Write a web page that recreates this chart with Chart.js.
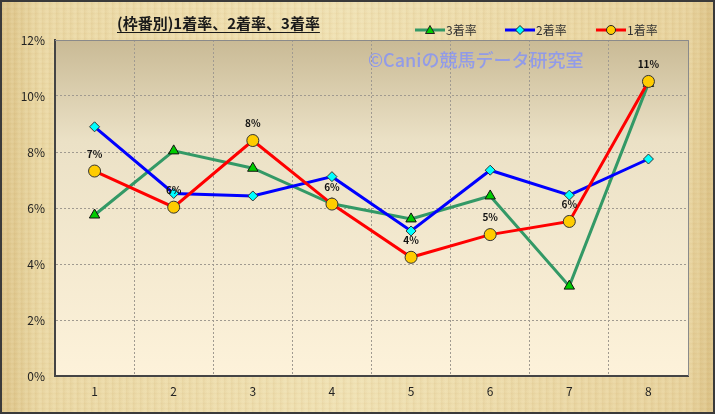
<!DOCTYPE html>
<html>
<head>
<meta charset="utf-8">
<script src="https://cdn.jsdelivr.net/npm/chart.js@4/dist/chart.umd.min.js"></script>
<style>
  html, body { margin: 0; padding: 0; }
  body {
    width: 715px; height: 414px; overflow: hidden;
    background-color: #ead8a4;
    background-image:
      repeating-linear-gradient(90deg, rgba(190,150,80,0.10) 0px, rgba(190,150,80,0.0) 3px, rgba(255,245,210,0.12) 5px, rgba(190,150,80,0.0) 7px),
      repeating-linear-gradient(0deg, rgba(200,160,90,0.08) 0px, rgba(255,250,220,0.10) 2px, rgba(200,160,90,0.0) 5px),
      linear-gradient(90deg, #d9bf82 0px, #e9d6a2 40px, #efe0b2 350px, #e6d09a 690px, #d8bd80 715px);
  }
  #wrap { position: relative; width: 711px; height: 410px; border: 2px solid #3a3a3a; }
</style>
</head>
<body>
<div id="wrap"><canvas id="chart" width="711" height="410"></canvas></div>
<script>
let categories = ["1", "2", "3", "4", "5", "6", "7", "8"];
let rate1 = [7.32, 6.03, 8.41, 6.14, 4.24, 5.05, 5.52, 10.52];
let rate2 = [8.90, 6.52, 6.43, 7.12, 5.18, 7.35, 6.46, 7.75];
let rate3 = [5.75, 8.04, 7.42, 6.15, 5.61, 6.43, 3.21, 10.45];
let tickValues = [0, 2, 4, 6, 8, 10, 12];

let jpFont = "'Noto Sans CJK JP', 'Noto Sans', sans-serif";

function legendIcon(color, style, fill) {
  let c = document.createElement("canvas");
  c.width = 30; c.height = 12;
  let ctx = c.getContext("2d");
  ctx.strokeStyle = color;
  ctx.lineWidth = 3;
  ctx.beginPath(); ctx.moveTo(0, 6); ctx.lineTo(30, 6); ctx.stroke();
  ctx.fillStyle = fill;
  ctx.strokeStyle = "#222";
  ctx.lineWidth = 1;
  ctx.beginPath();
  if (style === "circle") {
    ctx.arc(15, 6, 4.5, 0, Math.PI * 2);
  } else if (style === "rectRot") {
    ctx.moveTo(15, 1.5); ctx.lineTo(19.5, 6); ctx.lineTo(15, 10.5); ctx.lineTo(10.5, 6); ctx.closePath();
  } else {
    ctx.moveTo(15, 1.5); ctx.lineTo(19.5, 9.5); ctx.lineTo(10.5, 9.5); ctx.closePath();
  }
  ctx.fill(); ctx.stroke();
  return c;
}

let decorPlugin = {
  id: "decor",
  beforeDraw(chart) {
    let ctx = chart.ctx;
    let a = chart.chartArea;
    let g = ctx.createLinearGradient(0, a.top, 0, a.bottom);
    g.addColorStop(0, "#c9ba95");
    g.addColorStop(0.3, "#ebe1c6");
    g.addColorStop(1, "#fdf2da");
    ctx.save();
    ctx.fillStyle = g;
    ctx.fillRect(a.left, a.top, a.right - a.left, a.bottom - a.top);
    ctx.restore();
  },
  afterDraw(chart) {
    let ctx = chart.ctx;
    let a = chart.chartArea;
    ctx.save();
    // plot frame top/right
    ctx.strokeStyle = "#8a8a8a";
    ctx.lineWidth = 1;
    ctx.beginPath();
    ctx.moveTo(a.left, a.top + 0.5); ctx.lineTo(a.right + 0.5, a.top + 0.5); ctx.lineTo(a.right + 0.5, a.bottom);
    ctx.stroke();
    // title
    let title = "(枠番別)1着率、2着率、3着率";
    ctx.font = "bold 15px " + jpFont;
    ctx.fillStyle = "#1a1a1a";
    ctx.textBaseline = "middle";
    ctx.textAlign = "left";
    let tw = ctx.measureText(title).width;
    let tx = 115;
    ctx.fillText(title, tx, 21);
    ctx.strokeStyle = "#1a1a1a";
    ctx.beginPath(); ctx.moveTo(tx, 30.5); ctx.lineTo(tx + tw, 30.5); ctx.stroke();
    // watermark
    ctx.font = "500 18px " + jpFont;
    ctx.fillStyle = "rgba(130,145,250,0.8)";
    ctx.fillText("©Caniの競馬データ研究室", 366, 58);
    // legend
    let items = [
      { label: "3着率", icon: legendIcon("#339966", "triangle", "#00cc00"), x: 413 },
      { label: "2着率", icon: legendIcon("#0000ff", "rectRot", "#00ffff"), x: 503 },
      { label: "1着率", icon: legendIcon("#ff0000", "circle", "#ffcc00"), x: 594 },
    ];
    ctx.font = "12px " + jpFont;
    ctx.fillStyle = "#333";
    items.forEach((it) => {
      ctx.drawImage(it.icon, it.x, 22);
      ctx.fillText(it.label, it.x + 31, 28);
    });
    // data labels for 1着率
    let meta = chart.getDatasetMeta(0);
    ctx.font = "bold 10px " + jpFont;
    ctx.fillStyle = "#111";
    ctx.textAlign = "center";
    meta.data.forEach((pt, i) => {
      ctx.fillText(Math.round(rate1[i]) + "%", pt.x, pt.y - 17);
    });
    ctx.restore();
  },
};

let config = {
  type: "line",
  data: {
    labels: categories,
    datasets: [
      {
        label: "1着率",
        data: rate1,
        borderColor: "#ff0000",
        pointBackgroundColor: "#ffcc00",
        pointBorderColor: "#333",
        pointBorderWidth: 1,
        pointStyle: "circle",
        pointRadius: 6,
        borderWidth: 3,
      },
      {
        label: "2着率",
        data: rate2,
        borderColor: "#0000ff",
        pointBackgroundColor: "#00ffff",
        pointBorderColor: "#333",
        pointBorderWidth: 1,
        pointStyle: "rectRot",
        pointRadius: 5,
        borderWidth: 3,
      },
      {
        label: "3着率",
        data: rate3,
        borderColor: "#339966",
        pointBackgroundColor: "#00cc00",
        pointBorderColor: "#111",
        pointBorderWidth: 1,
        pointStyle: "triangle",
        pointRadius: 6,
        borderWidth: 3,
      },
    ],
  },
  options: {
    responsive: false,
    animation: false,
    layout: { padding: { left: 0, right: 25, top: 38, bottom: 0 } },
    plugins: {
      legend: { display: false },
      title: { display: false },
      tooltip: { enabled: false },
    },
    scales: {
      x: {
        offset: true,
        grid: { offset: true, color: "#a09a90", tickLength: 0 },
        border: { color: "#444", width: 2, dash: [2, 2] },
        ticks: { color: "#222", font: { family: jpFont, size: 12 }, padding: 8 },
        afterFit(scale) { scale.height = 36; },
      },
      y: {
        min: 0,
        max: 12,
        afterBuildTicks(scale) { scale.ticks = tickValues.map((v) => ({ value: v })); },
        grid: { color: "#a09a90", tickLength: 0 },
        border: { color: "#444", width: 2, dash: [2, 2] },
        ticks: {
          color: "#222",
          font: { family: jpFont, size: 12 },
          padding: 10,
          callback: (v) => v + "%",
        },
        afterFit(scale) { scale.width = 53; },
      },
    },
  },
  plugins: [decorPlugin],
};

let chart = new Chart(document.getElementById("chart"), config);
</script>
</body>
</html>
